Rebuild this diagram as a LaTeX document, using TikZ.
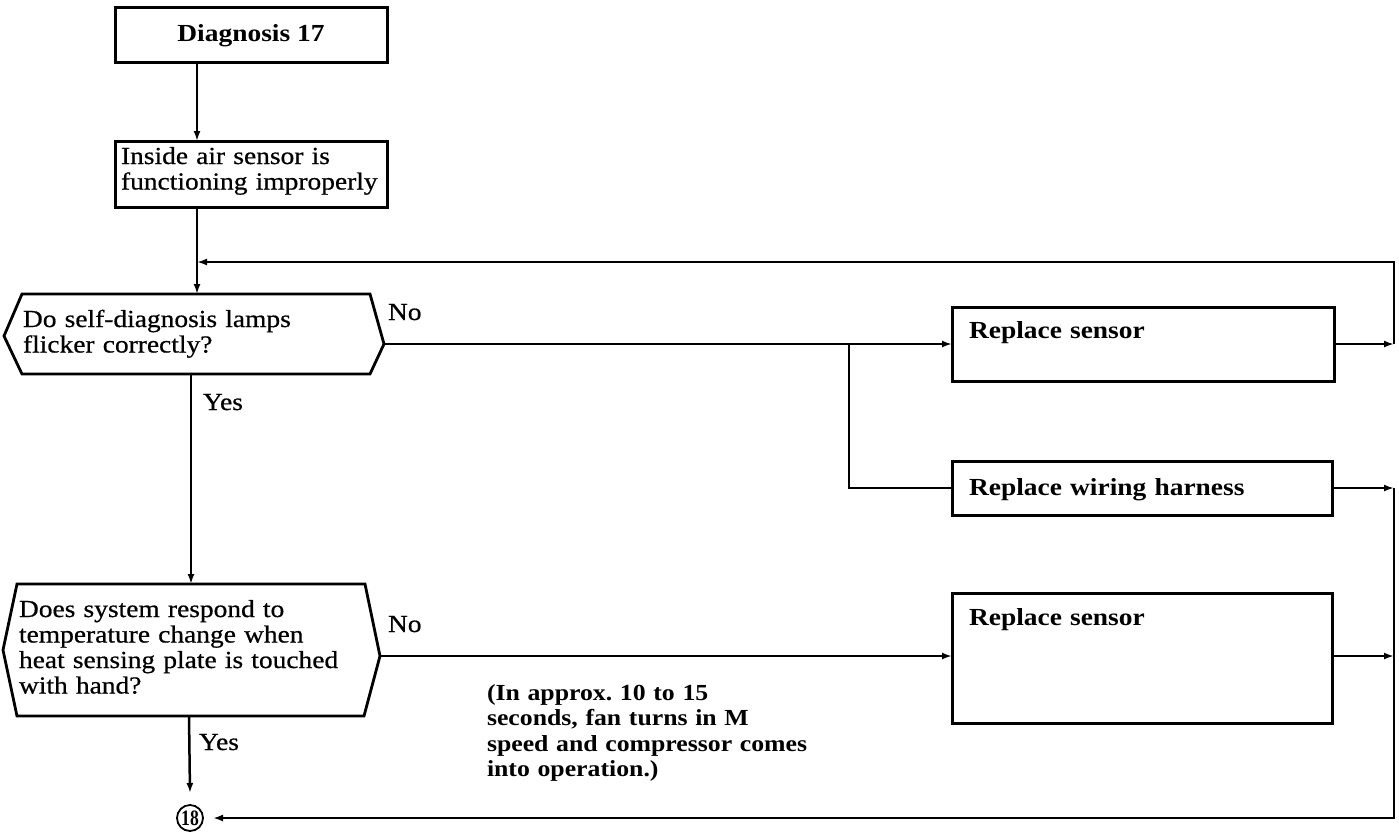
\documentclass[tikz,border=0pt]{standalone}
\usepackage{fontspec}
\setmainfont{Liberation Serif}[FakeStretch=1.12, UprightFeatures={FakeBold=0.6}]
\newfontfamily\digitfont{Liberation Serif}[FakeStretch=0.8]
\usetikzlibrary{arrows.meta}
\frenchspacing

\begin{document}
\begin{tikzpicture}[x=1pt,y=-1pt,
  every node/.style={inner sep=0pt, outer sep=0pt},
  frame/.style={draw, line width=3pt, rectangle, anchor=north west},
  hexline/.style={line width=2.8pt, line join=miter},
  conn/.style={line width=2.5pt},
  arr/.style={conn, -{Latex[length=10pt,width=7pt]}},
  plain/.style={font=\fontsize{24.5}{25.5}\selectfont, anchor=base west, align=left, text width=420pt},
  heavy/.style={font=\fontsize{24.5}{25.5}\selectfont\bfseries, anchor=base west, align=left, text width=420pt},
  remark/.style={font=\fontsize{23}{25.5}\selectfont\bfseries, anchor=base west, align=left, text width=420pt},
  tag/.style={font=\fontsize{24.5}{25.5}\selectfont, anchor=base west},
]
\useasboundingbox (0,0) rectangle (1399,831);

% ---- rectangular boxes
\node[frame, minimum width=272pt, minimum height=55pt] (diag) at (115,7) {};
\node[font=\fontsize{24.5}{25.5}\selectfont\bfseries, anchor=base] (diagt) at (251,41) {Diagnosis 17};

\node[frame, minimum width=272pt, minimum height=66pt] (air) at (115,141) {};
\node[plain] (airt) at (121,164) {Inside air sensor is\\functioning improperly};

\node[frame, minimum width=382pt, minimum height=74pt] (rsa) at (952,307) {};
\node[heavy] (rsat) at (969,338) {Replace sensor};

\node[frame, minimum width=380pt, minimum height=54pt] (harn) at (952,461) {};
\node[heavy] (harnt) at (969,495) {Replace wiring harness};

\node[frame, minimum width=380pt, minimum height=130pt] (rsb) at (952,593) {};
\node[heavy] (rsbt) at (969,625) {Replace sensor};

% ---- decision hexagons
\coordinate (qan) at (197,294);
\coordinate (qas) at (191,374);
\coordinate (qae) at (384,344);
\draw[hexline] (4,336) -- (22,294) -- (370,294) -- (qae) -- (370,374) -- (22,374) -- cycle;
\node[plain] (qat) at (23,327) {Do self-diagnosis lamps\\flicker correctly?};

\coordinate (qbn) at (191,584);
\coordinate (qbs) at (189,716);
\coordinate (qbe) at (380,656);
\draw[hexline] (3,650) -- (17,584) -- (365,584) -- (qbe) -- (364,716) -- (17,716) -- cycle;
\node[plain] (qbt) at (19,617) {Does system respond to\\temperature change when\\heat sensing plate is touched\\with hand?};

% ---- branch labels
\node[tag] (noa) at (388,320) {No};
\node[tag] (yesa) at (203,410) {Yes};
\node[tag] (nob) at (388,632) {No};
\node[tag] (yesb) at (199,750) {Yes};

\node[remark] (note) at (487,700) {(In approx. 10 to 15\\seconds, fan turns in M\\speed and compressor comes\\into operation.)};

% ---- connector to the next diagnosis
\node[circle, draw, line width=1.8pt, minimum size=26pt,
      font=\digitfont\bfseries\fontsize{22}{22}\selectfont] (next) at (190,818) {18};

% ---- routing points
\coordinate (rx) at (1394,0);
\coordinate (loop) at (0,262);
\coordinate (split) at (849,0);

% ---- connectors
\draw[arr] (diag.south -| qan) -- (air.north -| qan);
\draw[conn] (air.south -| qan) -- (qan |- loop);
\draw[arr] (qan |- loop) -- (qan);
\draw[arr] (qas) -- (qbn);
\draw[arr] (qbs) -- ([yshift=12pt]next.north);

\draw[arr] (qae) -- (qae -| rsa.west);
\draw[conn] (split |- qae) -- (split |- harn.west) -- (harn.west);
\draw[arr] (qbe) -- (qbe -| rsb.west);

\draw[arr] (rsa.east |- qae) -- (rx |- qae);
\draw[arr] (rx |- qae) -- (rx |- loop) -- (qan |- loop);

\draw[arr] (harn.east) -- (harn.east -| rx);
\draw[arr] (rsb.east |- qbe) -- (rx |- qbe);
\draw[arr] (harn.east -| rx) -- (rx |- next) -- ([xshift=10pt]next.east);
\end{tikzpicture}
\end{document}
